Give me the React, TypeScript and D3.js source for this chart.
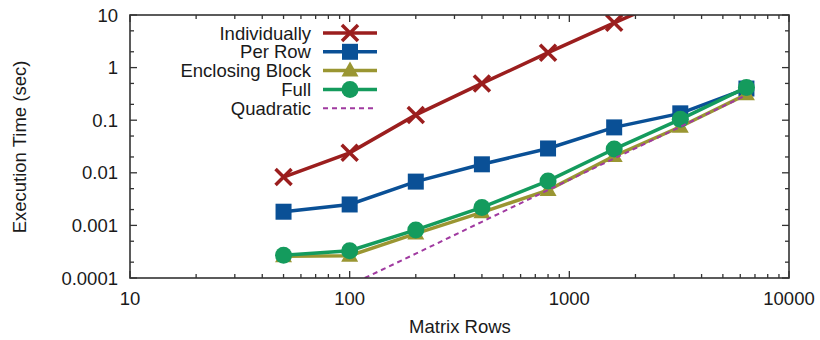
import React, { useRef, useEffect } from 'react';
import * as d3 from 'd3';

const rows = [50, 100, 200, 400, 800, 1600, 3200, 6400];
const individually = [0.0083, 0.024, 0.126, 0.5, 1.92, 7.1, 25];
const perRow = [0.00182, 0.0025, 0.0068, 0.0145, 0.029, 0.073, 0.135, 0.4];
const enclosingBlock = [0.00026, 0.000265, 0.0007, 0.00177, 0.0047, 0.0208, 0.075, 0.31];
const full = [0.00027, 0.00033, 0.00082, 0.0022, 0.007, 0.0283, 0.104, 0.42];
const quadratic = [0.0000183, 0.000073, 0.00029, 0.00117, 0.0047, 0.0187, 0.075, 0.3];

const xTicks = [10, 100, 1000, 10000];
const yTicks = [0.0001, 0.001, 0.01, 0.1, 1, 10];
const yTickLabels = ['0.0001', '0.001', '0.01', '0.1', '1', '10'];

const series = [
  { name: 'Individually', values: individually, color: '#9b1e1e', marker: 'x' },
  { name: 'Per Row', values: perRow, color: '#0a5096', marker: 'square' },
  { name: 'Enclosing Block', values: enclosingBlock, color: '#9a9632', marker: 'triangle' },
  { name: 'Full', values: full, color: '#149b5d', marker: 'circle' },
  { name: 'Quadratic', values: quadratic, color: '#a03aa0', marker: 'none' },
];

function App() {
  const svgRef = useRef<SVGSVGElement>(null);

  useEffect(() => {
    const width = 820;
    const height = 340;
    const left = 130, right = 789, top = 15, bottom = 278;
    const font = "'Liberation Sans', Arial, sans-serif";
    const fs = 18.5;
    const textColor = '#1a1a1a';

    const x = d3.scaleLog().domain([10, 10000]).range([left, right]);
    const y = d3.scaleLog().domain([0.0001, 10]).range([bottom, top]);

    const svg = d3.select(svgRef.current);
    svg.selectAll('*').remove();
    svg.attr('width', width).attr('height', height)
      .style('position', 'absolute').style('left', 0).style('top', 0)
      .style('font-family', font);

    svg.append('defs').append('clipPath').attr('id', 'plotclip')
      .append('rect').attr('x', left).attr('y', top)
      .attr('width', right - left).attr('height', bottom - top);

    const axisColor = '#333';
    const tickG = svg.append('g').attr('stroke', axisColor).attr('stroke-width', 1.3);

    // x ticks (major + minor), bottom and top, pointing inward
    const xMinor: number[] = [];
    for (let d = 10; d < 10000; d *= 10) for (let k = 2; k <= 9; k++) xMinor.push(d * k);
    xTicks.forEach(v => {
      tickG.append('line').attr('x1', x(v)).attr('x2', x(v)).attr('y1', bottom).attr('y2', bottom - 7);
      tickG.append('line').attr('x1', x(v)).attr('x2', x(v)).attr('y1', top).attr('y2', top + 7);
    });
    xMinor.forEach(v => {
      tickG.append('line').attr('x1', x(v)).attr('x2', x(v)).attr('y1', bottom).attr('y2', bottom - 4);
      tickG.append('line').attr('x1', x(v)).attr('x2', x(v)).attr('y1', top).attr('y2', top + 4);
    });

    const yMinor: number[] = [];
    for (let d = 0.0001; d < 9; d *= 10) { yMinor.push(d * 2); yMinor.push(d * 5); }
    yTicks.forEach(v => {
      tickG.append('line').attr('x1', left).attr('x2', left + 7).attr('y1', y(v)).attr('y2', y(v));
      tickG.append('line').attr('x1', right).attr('x2', right - 7).attr('y1', y(v)).attr('y2', y(v));
    });
    yMinor.forEach(v => {
      tickG.append('line').attr('x1', left).attr('x2', left + 4).attr('y1', y(v)).attr('y2', y(v));
      tickG.append('line').attr('x1', right).attr('x2', right - 4).attr('y1', y(v)).attr('y2', y(v));
    });

    // tick labels
    svg.append('g').selectAll('text').data(xTicks).join('text')
      .attr('x', d => x(d)).attr('y', 305)
      .attr('text-anchor', 'middle').attr('font-size', fs).attr('fill', textColor)
      .text(d => String(d));
    svg.append('g').selectAll('text').data(yTicks).join('text')
      .attr('x', 118).attr('y', d => y(d) + 6.5)
      .attr('text-anchor', 'end').attr('font-size', fs).attr('fill', textColor)
      .text((d, i) => yTickLabels[i]);

    svg.append('text').attr('x', 460).attr('y', 333).attr('text-anchor', 'middle')
      .attr('font-size', fs).attr('fill', textColor).text('Matrix Rows');
    svg.append('text').attr('transform', 'translate(26,147) rotate(-90)')
      .attr('text-anchor', 'middle').attr('font-size', fs).attr('fill', textColor)
      .text('Execution Time (sec)');

    const drawMarker = (g: any, marker: string, cx: number, cy: number, color: string) => {
      if (marker === 'x') {
        const s = 8;
        g.append('path').attr('d', `M${cx - s},${cy - s}L${cx + s},${cy + s}M${cx - s},${cy + s}L${cx + s},${cy - s}`)
          .attr('stroke', color).attr('stroke-width', 3.5).attr('fill', 'none');
      } else if (marker === 'square') {
        g.append('rect').attr('x', cx - 8).attr('y', cy - 8).attr('width', 16).attr('height', 16).attr('fill', color);
      } else if (marker === 'triangle') {
        g.append('path').attr('d', `M${cx},${cy - 9}L${cx + 8.5},${cy + 6}L${cx - 8.5},${cy + 6}Z`).attr('fill', color);
      } else if (marker === 'circle') {
        g.append('circle').attr('cx', cx).attr('cy', cy).attr('r', 8.5).attr('fill', color);
      }
    };

    const plot = svg.append('g').attr('clip-path', 'url(#plotclip)');
    const line = d3.line<number>()
      .x((d, i) => x(rows[i]))
      .y(d => y(d));

    series.forEach(s => {
      const g = plot.append('g');
      g.append('path').attr('d', line(s.values))
        .attr('fill', 'none').attr('stroke', s.color)
        .attr('stroke-width', s.marker === 'none' ? 2 : 3.5)
        .attr('stroke-dasharray', s.marker === 'none' ? '5,4' : null);
      s.values.forEach((v, i) => drawMarker(g, s.marker, x(rows[i]), y(v), s.color));
    });

    // legend
    const legend = svg.append('g');
    series.forEach((s, i) => {
      const ly = 33 + i * 18.8;
      legend.append('text').attr('x', 311).attr('y', ly + 6.5).attr('text-anchor', 'end')
        .attr('font-size', fs).attr('fill', textColor).text(s.name);
      legend.append('line').attr('x1', 323).attr('x2', 377).attr('y1', ly).attr('y2', ly)
        .attr('stroke', s.color).attr('stroke-width', s.marker === 'none' ? 2 : 3.5)
        .attr('stroke-dasharray', s.marker === 'none' ? '5,4' : null);
      drawMarker(legend, s.marker, 350, ly, s.color);
    });

    // frame
    svg.append('rect').attr('x', left).attr('y', top)
      .attr('width', right - left).attr('height', bottom - top)
      .attr('fill', 'none').attr('stroke', axisColor).attr('stroke-width', 1.6);
  }, []);

  return (
    <div style={{ width: 820, height: 340 }}>
      <svg ref={svgRef}></svg>
    </div>
  );
}

export default App;
